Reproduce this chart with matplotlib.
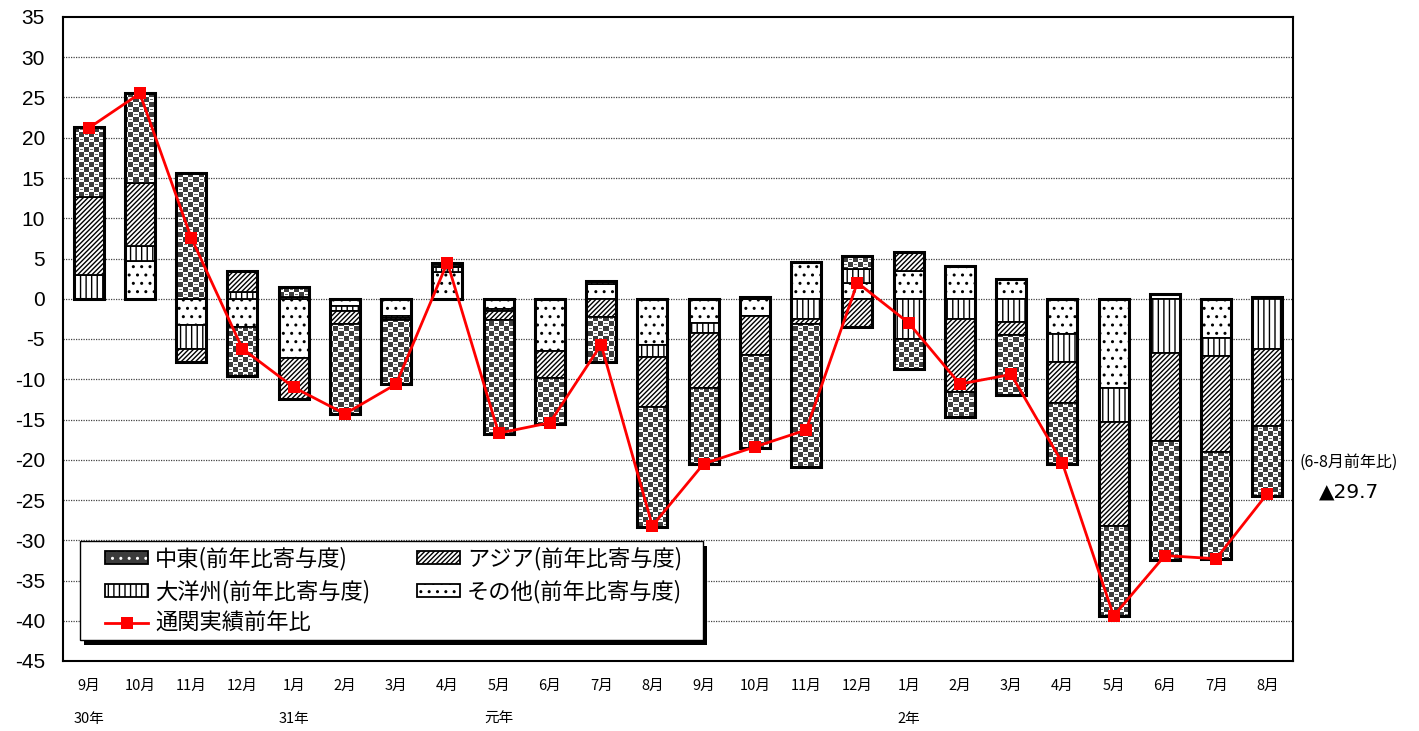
import numpy as np
import matplotlib
matplotlib.use("Agg")
import matplotlib.pyplot as plt
from matplotlib.patches import Patch, Rectangle
from matplotlib.lines import Line2D
from matplotlib.legend_handler import HandlerTuple

plt.rcParams['font.family'] = ['Noto Sans CJK JP', 'DejaVu Sans']
plt.rcParams['axes.unicode_minus'] = False
plt.rcParams['hatch.linewidth'] = 1.0

# ---- data -------------------------------------------------------------
months = ['9月', '10月', '11月', '12月', '1月', '2月', '3月', '4月', '5月', '6月',
          '7月', '8月', '9月', '10月', '11月', '12月', '1月', '2月', '3月', '4月',
          '5月', '6月', '7月', '8月']
year_labels = {0: '30年', 4: '31年', 8: '元年', 16: '2年'}

middle_east = [8.6, 11.1, 15.6, -6.1, 1.2, -11.2, -7.9, 0.4, -14.2, -5.7,
               -5.6, -14.9, -9.4, -11.5, -17.8, 1.6, -3.7, -3.1, -7.4, -7.5,
               -11.2, -14.8, -13.3, -8.7]
asia = [9.8, 7.9, -1.7, 2.6, -5.0, -1.6, -0.3, 0.2, -1.1, -3.3,
        -2.3, -6.2, -6.9, -4.9, -0.6, -3.5, 2.3, -9.1, -1.6, -5.1,
        -12.9, -10.9, -11.9, -9.6]
oceania = [2.9, 1.8, -2.9, 0.8, 0.2, -0.6, -0.3, 0.6, -0.2, 0.0,
           0.4, -1.4, -1.2, 0.2, -2.5, 1.7, -5.0, -2.5, -2.9, -3.5,
           -4.2, -6.8, -2.2, -6.2]
others = [0.0, 4.7, -3.3, -3.5, -7.4, -0.9, -2.1, 3.3, -1.3, -6.5,
          1.8, -5.8, -3.0, -2.1, 4.6, 2.0, 3.5, 4.1, 2.5, -4.4,
          -11.1, 0.6, -4.9, 0.2]
total = [21.2, 25.5, 7.6, -6.2, -11.0, -14.3, -10.6, 4.5, -16.7, -15.4,
         -5.7, -28.2, -20.5, -18.4, -16.3, 2.0, -3.0, -10.6, -9.4, -20.4,
         -39.4, -31.9, -32.3, -24.2]

x = np.arange(len(months))
width = 0.59

HATCH_ASIA = '///////'
HATCH_OCEANIA = '|||'
HATCH_OTHERS = '..'

FW, FH = 1419, 731
fig = plt.figure(figsize=(FW / 100, FH / 100), dpi=100)
ax = fig.add_axes([63 / FW, 1 - 661 / FH, 1230 / FW, 644 / FH])
XLIM = (-0.5, len(months) - 0.5)
YLIM = (-45, 35)

# ---- stacked bars (stacked outward from zero, separately for +/-) -------
series = [
    (others, HATCH_OTHERS, 'others'),
    (oceania, HATCH_OCEANIA, 'oceania'),
    (asia, HATCH_ASIA, 'asia'),
    (middle_east, None, 'middle_east'),
]
pos_base = np.zeros(len(x))
neg_base = np.zeros(len(x))
containers = {}
bottoms = {}
for vals, hatch, key in series:
    v = np.asarray(vals, dtype=float)
    bottom = np.where(v >= 0, pos_base, neg_base)
    bars = ax.bar(x, v, width, bottom=bottom, facecolor='white', hatch=hatch,
                  edgecolor='black', linewidth=1.3, zorder=3)
    containers[key] = bars
    bottoms[key] = bottom
    pos_base = pos_base + np.where(v > 0, v, 0)
    neg_base = neg_base + np.where(v < 0, v, 0)

# checkered texture for the Middle East segments
H, W = 644, 1230
r = np.arange(H)[:, None]
c = np.arange(W)[None, :]
dark = ((r // 5 + c // 5) % 2 == 0)
tex = np.ones((H, W, 3))
tex[np.broadcast_to(dark, (H, W))] = 0.24
dash = (~dark) & (r % 5 == 2) & ((c % 5 >= 1) & (c % 5 <= 3))
tex[np.broadcast_to(dash, (H, W))] = 0.45
for rect in containers['middle_east']:
    im = ax.imshow(tex, extent=(*XLIM, *YLIM), origin='upper', aspect='auto',
                   interpolation='nearest', zorder=3.2)
    im.set_clip_path(rect)
# redraw segment borders over the texture
ax.bar(x, middle_east, width, bottom=bottoms['middle_east'], fill=False,
       edgecolor='black', linewidth=1.3, zorder=3.4)

# heavier outline around each whole column
ax.bar(x, pos_base - neg_base, width, bottom=neg_base, fill=False,
       edgecolor='black', linewidth=2.2, zorder=3.5)

# ---- year-on-year line -------------------------------------------------
ax.plot(x, total, color='#ff0000', lw=2.0, marker='s', markersize=8,
        markeredgewidth=0, zorder=5)

# ---- axes --------------------------------------------------------------
ax.set_xlim(*XLIM)
ax.set_ylim(*YLIM)
ax.set_yticks(np.arange(-45, 36, 5))
ax.set_yticklabels([str(v) for v in range(-45, 36, 5)],
                   fontsize=15, family=['Liberation Sans', 'DejaVu Sans'])
ax.tick_params(axis='y', length=0, pad=13)
ax.set_xticks(x)
ax.set_xticklabels(months, fontsize=10.5)
ax.tick_params(axis='x', length=0, pad=13)
for s in ax.spines.values():
    s.set_linewidth(1.5)
    s.set_color('black')
for yv in np.arange(-40, 35, 5):
    ax.axhline(yv, color='#444444', lw=0.9, ls=(0, (1, 1)), zorder=1)

for i, lab in year_labels.items():
    ax.text(x[i], -0.09, lab, transform=ax.get_xaxis_transform(),
            ha='center', va='center', fontsize=10.5)

fig.text(1349 / FW, 1 - 462 / FH, '(6-8月前年比)', ha='center', va='center',
         fontsize=11.5)
fig.text(1349 / FW, 1 - 492 / FH, '▲29.7', ha='center', va='center',
         fontsize=14.5, family=['DejaVu Sans'])

# ---- legend box with a solid drop shadow -------------------------------
bx0, by0, bx1, by1 = 80, 541, 703, 640
fig.patches.append(Rectangle(((bx0 + 4) / FW, 1 - (by1 + 5) / FH),
                             (bx1 - bx0) / FW, (by1 - by0) / FH,
                             transform=fig.transFigure, facecolor='black',
                             edgecolor='none', zorder=8))
fig.patches.append(Rectangle((bx0 / FW, 1 - by1 / FH),
                             (bx1 - bx0) / FW, (by1 - by0) / FH,
                             transform=fig.transFigure, facecolor='white',
                             edgecolor='black', lw=1.0, zorder=9))

me_handle = (Patch(facecolor='#3c3c3c', edgecolor='white', hatch='..', lw=0),
             Patch(fill=False, edgecolor='black', lw=1.3))
handles = [
    me_handle,
    Patch(facecolor='white', edgecolor='black', hatch=HATCH_OCEANIA, lw=1.3),
    Line2D([], [], color='#ff0000', lw=2.0, marker='s', markersize=8, markeredgewidth=0),
    Patch(facecolor='white', edgecolor='black', hatch=HATCH_ASIA, lw=1.3),
    Patch(facecolor='white', edgecolor='black', hatch=HATCH_OTHERS, lw=1.3),
]
labels = ['中東(前年比寄与度)', '大洋州(前年比寄与度)', '通関実績前年比',
          'アジア(前年比寄与度)', 'その他(前年比寄与度)']
leg = fig.legend(handles, labels, ncol=2, loc='center left',
                 bbox_to_anchor=(105 / FW, 1 - 591 / FH), borderaxespad=0,
                 fontsize=16, frameon=False, borderpad=0,
                 handlelength=1.95, handleheight=0.5, handletextpad=0.3,
                 labelspacing=0.40, columnspacing=2.1,
                 handler_map={tuple: HandlerTuple(ndivide=1, pad=0)})
leg.set_zorder(10)

fig.savefig('out.png', dpi=100)
